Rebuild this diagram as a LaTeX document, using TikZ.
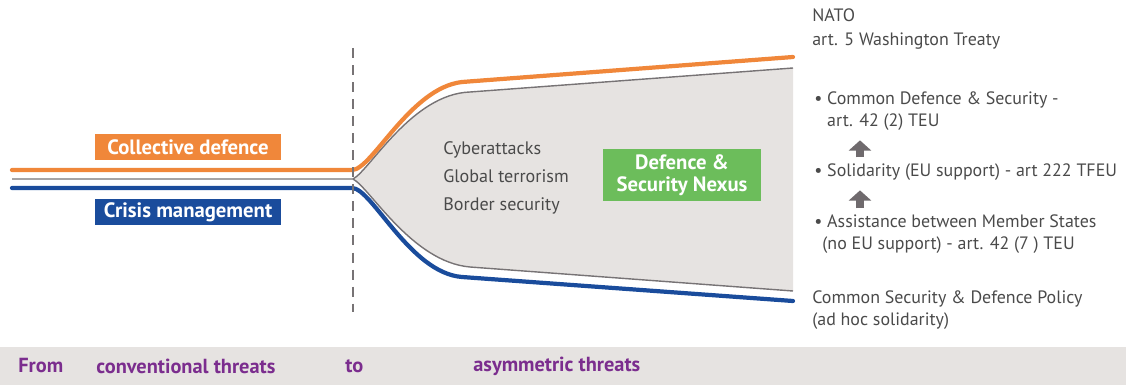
\documentclass[tikz,border=0pt]{standalone}
\usepackage{fontspec}
\setmainfont{PT Sans}
\usepackage{tikz}
\usetikzlibrary{positioning, calc, arrows.meta}
\definecolor{NexOrange}{HTML}{F0873A}
\definecolor{NexBlue}{HTML}{1A4C9C}
\definecolor{NexGreen}{HTML}{6CBD5B}
\definecolor{NexFill}{HTML}{E6E3E1}
\definecolor{NexEdge}{HTML}{777375}
\definecolor{NexText}{HTML}{4A4A4A}
\definecolor{NexPurple}{HTML}{7B2D8E}
\definecolor{NexArrow}{HTML}{6F6A6D}

\begin{document}
\begin{tikzpicture}[x=0.02cm, y=-0.02cm, font=\fontsize{10.2}{12.5}\selectfont,
  tag/.style={fill=#1, text=white, font=\fontsize{11.8}{12}\selectfont\bfseries,
    minimum width=3.74cm, minimum height=0.54cm, inner sep=0pt},
  note/.style={text=NexText, align=left, anchor=west, inner sep=0pt},
  band/.style={text=NexPurple, font=\fontsize{11.6}{12}\selectfont\bfseries, anchor=west, inner sep=0pt},
  track/.style={line width=2.4pt, line cap=round},
  uparrow/.style={NexArrow, line width=5pt, shorten <=3.4pt, shorten >=5.5pt,
    -{Triangle[length=5.8pt, width=12.5pt]}}]
  \useasboundingbox (0,0) rectangle (1126,385);
  % widening grey zone
  \fill[NexFill] (353,179) .. controls (370,170) and (412,94) .. (470,92) -- (793,68)
     -- (793,291) -- (470,267) .. controls (412,262) and (370,188) .. (353,179) -- cycle;
  \draw[NexEdge, line width=0.8pt] (12,179) -- (353,179)
     .. controls (370,170) and (412,94) .. (470,92) -- (793,68);
  \draw[NexEdge, line width=0.8pt] (353,179)
     .. controls (370,188) and (412,262) .. (470,267) -- (793,291);
  \draw[track, NexOrange] (12,170) -- (352,170) .. controls (372,170) and (410,88) .. (462,82) -- (793,57);
  \draw[track, NexBlue] (12,188) -- (352,188) .. controls (372,188) and (410,273) .. (462,277) -- (793,301);
  \draw[NexEdge, line width=0.9pt, dash pattern=on 5.7pt off 4pt] (353,48) -- (353,312);
  % labels on the tracks
  \node[tag=NexOrange] (coll) at (188,147) {Collective defence};
  \node[tag=NexBlue] (crisis) at (188,212) {Crisis management};
  \node[note, font=\fontsize{10.3}{15.9}\selectfont] (threats) at (443,178) {Cyberattacks\\Global terrorism\\Border security};
  \node[tag=NexGreen, minimum width=3.16cm, minimum height=1.04cm, align=center,
    font=\fontsize{11.8}{12.8}\selectfont\bfseries] (nexus) at (682,175) {Defence \&\\Security Nexus};
  % legal bases
  \node[note, font=\fontsize{10.2}{13.6}\selectfont] (nato) at (812,29) {NATO\\art. 5 Washington Treaty};
  \node[note] (cds) at (814,111) {\textbullet\ Common Defence \& Security -\\\hphantom{\textbullet\ }art. 42 (2) TEU};
  \node[note] (sol) at (814,172) {\textbullet\ Solidarity (EU support) - art 222 TFEU};
  \node[note] (assist) at (814,234) {\textbullet\ Assistance between Member States\\\hphantom{\textbullet}(no EU support) - art. 42 (7 ) TEU};
  \node[note] (csdp) at (812,310) {Common Security \& Defence Policy\\(ad hoc solidarity)};
  \draw[uparrow] ($(sol.north west)+(46,0)$) -- ($(cds.south west)+(46,0)$);
  \draw[uparrow] ($(assist.north west)+(46,0)$) -- ($(sol.south west)+(46,0)$);
  % bottom band
  \fill[NexFill] (0,347) rectangle (1126,385);
  \node[band] (from) at (18,366) {From};
  \node[band] (conv) at (96,366) {conventional threats};
  \node[band] (to) at (345,366) {to};
  \node[band] (asym) at (473,366) {asymmetric threats};
\end{tikzpicture}
\end{document}
